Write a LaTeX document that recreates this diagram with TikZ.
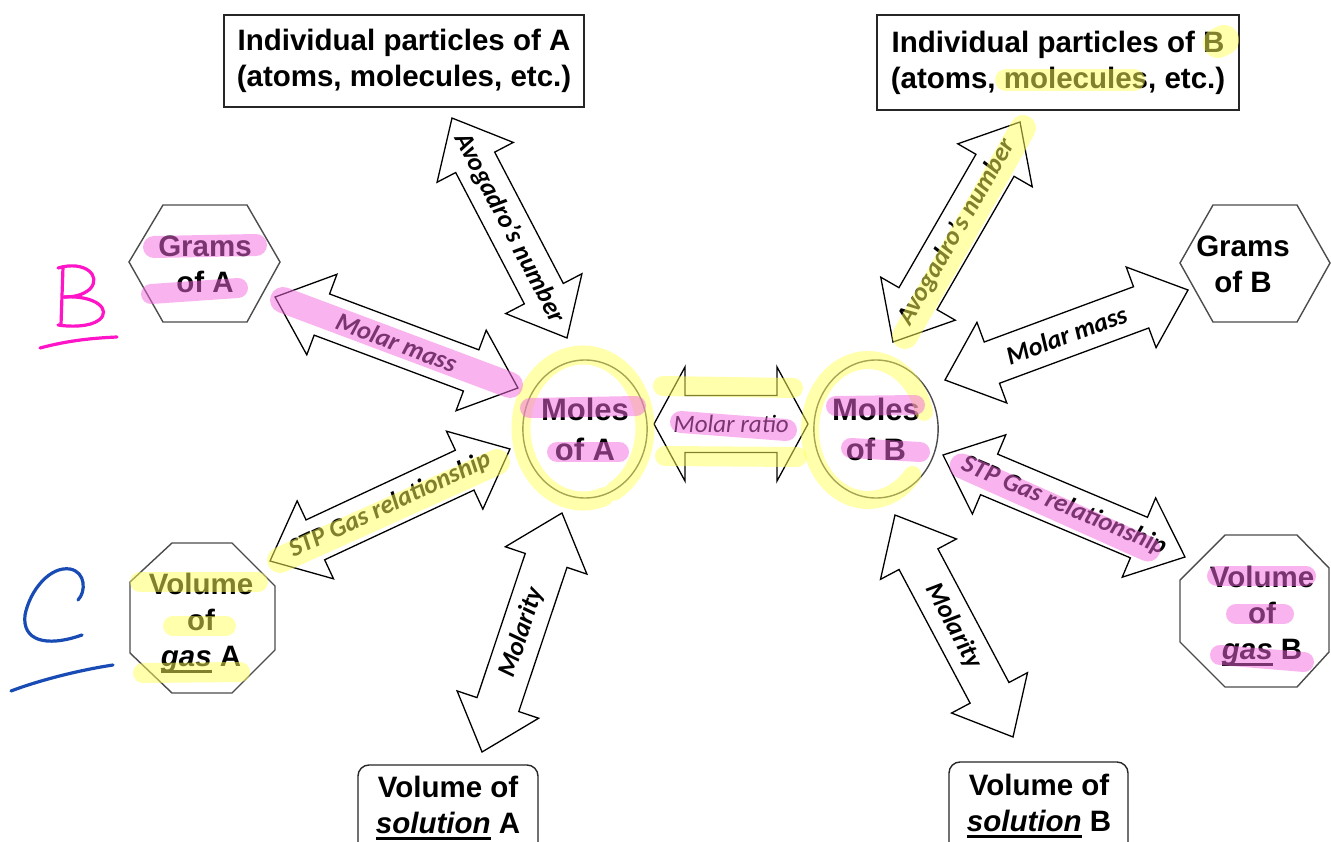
\documentclass[tikz,border=0pt]{standalone}
\usepackage{fontspec}
\setmainfont{Liberation Sans}
\newfontfamily\arrowfont{Carlito}
\usetikzlibrary{shapes.geometric}
\definecolor{hlpink}{RGB}{245,105,225}
\definecolor{hlyellow}{RGB}{255,255,90}
\definecolor{penpink}{RGB}{255,20,200}
\definecolor{penblue}{RGB}{25,75,180}
\def\ah{50}\def\aw{43}\def\as{22}
\newcommand\thickul[1]{\setbox0\hbox{#1}\rlap{\rule[-6.5pt]{\wd0}{2.6pt}}{#1}}
\newcommand\blkarrow[6]{%
  \begin{scope}[shift={(#2,#3)},rotate=#4]
    \draw[ashape] (-#5,0) -- ({-#5+\ah},\aw) -- ({-#5+\ah},\as) -- ({#5-\ah},\as) -- ({#5-\ah},\aw) -- (#5,0) -- ({#5-\ah},-\aw) -- ({#5-\ah},-\as) -- ({-#5+\ah},-\as) -- ({-#5+\ah},-\aw) -- cycle;
  \end{scope}
  \node[alabel,rotate=#4] (#1) at (#2,#3) {#6};}
\begin{document}
\begin{tikzpicture}[x=1pt,y=-1pt,
  boxtext/.style={font=\fontsize{29.5}{36}\selectfont\bfseries, align=center, text=black, inner sep=0pt},
  boxline/.style={draw=black!85, line width=1.4pt},
  shapeline/.style={draw=black!70, line width=1.4pt},
  ashape/.style={draw=black, line width=1.3pt, fill=white, line join=miter},
  alabel/.style={font=\arrowfont\fontsize{26}{30}\selectfont\bfseries\itshape, inner sep=0pt, text=black},
  hlp/.style={draw=hlpink, opacity=.5, line cap=round, line width=22pt},
  hly/.style={draw=hlyellow, opacity=.5, line cap=round, line width=22pt},
  pinkpen/.style={draw=penpink, line width=3.2pt, line cap=round, line join=round},
  bluepen/.style={draw=penblue, line width=3.2pt, line cap=round, line join=round}]
\useasboundingbox (0,0) rectangle (1331,842);
\fill[white] (0,0) rectangle (1331,842);

% top boxes
\node[boxtext, boxline, minimum width=360pt, minimum height=92pt] (partA) at (404,61) {Individual particles of A\\(atoms, molecules, etc.)};
\node[boxtext, boxline, minimum width=362pt, minimum height=95pt] (partB) at (1058,62.5) {Individual particles of B\\(atoms, molecules, etc.)};

% hexagons
\draw[shapeline] (129,262) -- (163,205) -- (247,205) -- (280,262) -- (247,322) -- (163,322) -- cycle;
\node[boxtext] (gramsA) at (205,264.5) {Grams\\of A};
\draw[shapeline] (1180,263) -- (1213,205) -- (1297,205) -- (1330,263) -- (1297,322) -- (1213,322) -- cycle;
\node[boxtext] (gramsB) at (1243,264.5) {Grams\\of B};

% octagons
\draw[shapeline] (172,543) -- (232,543) -- (275,586) -- (275,650) -- (232,693) -- (172,693) -- (130,653) -- (130,582) -- cycle;
\node[boxtext] (gasA) at (201,623) {Volume\\of\\\thickul{\itshape gas} A};
\draw[shapeline] (1225,535) -- (1297,535) -- (1329,568) -- (1329,652) -- (1297,687) -- (1225,687) -- (1180,642) -- (1180,580) -- cycle;
\node[boxtext] (gasB) at (1262,616) {Volume\\of\\\thickul{\itshape gas} B};

% moles
\node[ellipse, shapeline, minimum width=116pt, minimum height=138pt, inner sep=0pt, align=center, font=\fontsize{31}{40}\selectfont\bfseries] (molesA) at (585,429) {Moles\\of A};
\node[ellipse, shapeline, minimum width=118pt, minimum height=138pt, inner sep=0pt, align=center, font=\fontsize{31}{40}\selectfont\bfseries] (molesB) at (876,429) {Moles\\of B};

% bottom boxes
\draw[boxline, rounded corners=11pt] (358,765) rectangle (538,870);
\node[boxtext] (solA) at (448,808) {Volume of\\\thickul{\itshape solution} A};
\draw[boxline, rounded corners=11pt] (949,762) rectangle (1128,870);
\node[boxtext] (solB) at (1039,806) {Volume of\\\thickul{\itshape solution} B};

% block arrows
\blkarrow{mmA}{396.5}{342.5}{-20.53}{129.7}{Molar mass}
\blkarrow{avA}{509.5}{228}{-62.4}{124.1}{Avogadro’s number}
\blkarrow{avB}{956.5}{232}{60}{127}{Avogadro’s number}
\blkarrow{mmB}{1066.5}{335}{20.32}{129.6}{Molar mass}
\blkarrow{stpA}{390}{505}{25.02}{132.4}{STP Gas relationship}
\blkarrow{stpB}{1064}{506}{-22.85}{131.3}{STP Gas relationship}
\blkarrow{molA}{522}{632.5}{71.5}{126}{Molarity}
\blkarrow{molB}{954}{626}{-62}{125.7}{Molarity}
\def\ah{31}\def\aw{57}\def\as{28.5}
\blkarrow{ratio}{731}{424}{0}{77}{\mdseries\fontsize{25}{30}\selectfont Molar ratio}

% highlighter marks
\draw[hly, line width=30pt] (1218,43) -- (1224,40);
\draw[hly] (1006,80) -- (1134,80);
\draw[hly, line width=26pt] (1023,128) -- (905,336);
\draw[hly, line width=19pt] (583,428) ++(70:62 and 73) arc[start angle=70, end angle=420, x radius=62, y radius=73];
\draw[hly, line width=18pt] (868,430) ++(40:58 and 70) arc[start angle=40, end angle=345, x radius=58, y radius=70];
\draw[hly, line width=20pt] (663,386) -- (793,388);
\draw[hly, line width=20pt] (665,456) -- (797,457);
\draw[hly, line width=26pt] (280,560) -- (497,462);
\draw[hly, line width=20pt] (140,582) -- (258,582);
\draw[hly, line width=20pt] (173,626) -- (226,626);
\draw[hly, line width=20pt] (143,673) -- (240,672);

\draw[hlp] (154,247) -- (256,245);
\draw[hlp, line width=20pt] (151,294) -- (238,288);
\draw[hlp, line width=26pt] (283,300) -- (510,385);
\draw[hlp, line width=20pt] (530,408) -- (636,406);
\draw[hlp, line width=20pt] (557,452) -- (619,452);
\draw[hlp, line width=22pt] (681,422) -- (786,430);
\draw[hlp, line width=20pt] (836,406) -- (915,405);
\draw[hlp, line width=20pt] (851,448) -- (920,452);
\draw[hlp, line width=25pt] (962,466) -- (1148,549);
\draw[hlp, line width=20pt] (1217,576) -- (1306,576);
\draw[hlp, line width=20pt] (1236,614) -- (1284,614);
\draw[hlp, line width=20pt] (1220,655) -- (1304,662);

% handwriting
\draw[pinkpen] (63,267) -- (61,325);
\draw[pinkpen] (58,268) .. controls (85,260) and (102,276) .. (90,289) .. controls (82,296) and (72,297) .. (64,297);
\draw[pinkpen] (64,297) .. controls (96,295) and (112,310) .. (99,320) .. controls (90,327) and (70,327) .. (58,325);
\draw[pinkpen] (40,348) .. controls (70,340) and (95,338) .. (117,337);
\draw[bluepen] (78,600) .. controls (86,592) and (86,572) .. (70,569) .. controls (50,566) and (30,590) .. (25,615) .. controls (22,640) and (45,648) .. (82,635);
\draw[bluepen] (11,691) .. controls (40,680) and (80,670) .. (113,665);
\end{tikzpicture}
\end{document}
